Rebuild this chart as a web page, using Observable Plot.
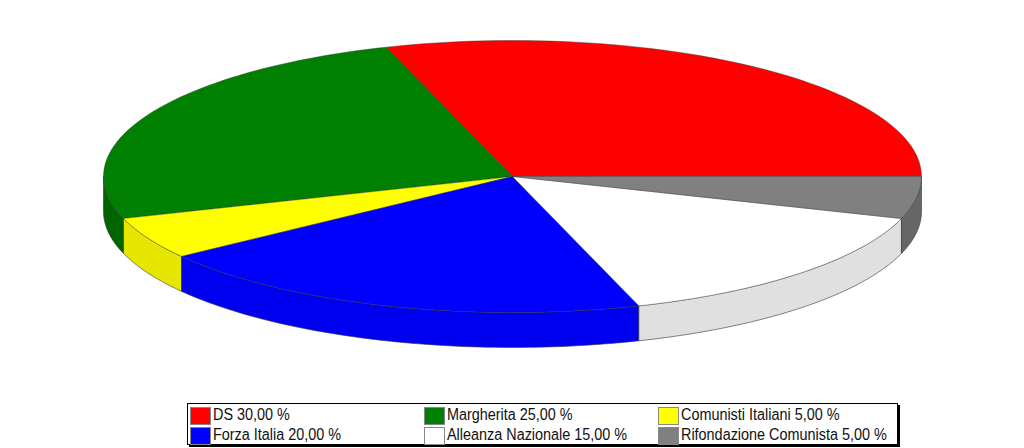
<!DOCTYPE html>
<html><head><meta charset="utf-8">
<script src="https://cdn.jsdelivr.net/npm/d3@7"></script>
<script src="https://cdn.jsdelivr.net/npm/@observablehq/plot@0.6"></script>
<style>
html,body{margin:0;padding:0;background:#fff;overflow:hidden}
svg{display:block}
#legend{position:absolute;left:187px;top:403px;width:711px;height:42px;box-sizing:border-box;border:1px solid #000;background:#fff;box-shadow:2px 2px 0 #000;font:16px "Liberation Sans",Arial,sans-serif;color:#111}
.it{position:absolute;display:flex;align-items:center;height:19px;white-space:nowrap}
.sw{width:21px;height:18px;border:1px solid #888;box-sizing:border-box;margin-right:2px;flex:none}
.tx{display:inline-block;transform:translateY(-1.5px) scaleX(.9);transform-origin:0 50%}
</style></head><body>
<div id="chart"></div><div id="legend"></div>
<script>
const names = ["DS","Margherita","Comunisti Italiani","Forza Italia","Alleanza Nazionale","Rifondazione Comunista"];
const shares = [30,25,5,20,15,5];
const topColors = ["#ff0000","#008000","#ffff00","#0000ff","#ffffff","#808080"];
const wallColors = ["#cc0000","#006400","#e6e600","#0000f0","#e0e0e0","#666666"];
const legendLabels = ["DS 30,00 %","Margherita 25,00 %","Comunisti Italiani 5,00 %","Forza Italia 20,00 %","Alleanza Nazionale 15,00 %","Rifondazione Comunista 5,00 %"];

const depth = 0.257; // wall height, in disc radii
const marks = [];
let acc = 0;
const turn = a => a / 100 * 2 * Math.PI;
const slices = shares.map((s, i) => { const o = {a0: turn(acc), a1: turn(acc + s), i}; acc += s; return o; });
const arc = (a0, a1) => d3.range(0, 61).map(k => a0 + (a1 - a0) * k / 60);

// walls: only the front half of the rim (below the horizontal axis)
for (const {a0, a1, i} of slices) {
  const lo = Math.max(a0, Math.PI), hi = Math.min(a1, 2 * Math.PI);
  if (lo >= hi) continue;
  const rim = arc(lo, hi).map(a => [Math.cos(a), Math.sin(a)]);
  const pts = [...rim, ...rim.slice().reverse().map(([x, y]) => [x, y - depth]), rim[0]];
  marks.push(Plot.line(pts, {x: d => d[0], y: d => d[1], fill: wallColors[i], stroke: "#333", strokeWidth: 0.6, strokeLinejoin: "round"}));
}
// top surface
for (const {a0, a1, i} of slices) {
  const pts = [[0, 0], ...arc(a0, a1).map(a => [Math.cos(a), Math.sin(a)]), [0, 0]];
  marks.push(Plot.line(pts, {x: d => d[0], y: d => d[1], fill: topColors[i], stroke: "#333", strokeWidth: 0.5, strokeOpacity: 0.8, strokeLinejoin: "round"}));
}
const chart = Plot.plot({
  width: 1024, height: 400, margin: 0,
  style: {background: "#fff"},
  x: {domain: [-1, 1], range: [103, 921], axis: null},
  y: {domain: [1, -1], range: [40, 312], axis: null},
  marks
});
document.getElementById("chart").append(chart);

const lx = [2, 236, 470], ly = [2, 22];
const legend = document.getElementById("legend");
legendLabels.forEach((label, n) => {
  const it = document.createElement("div");
  it.className = "it";
  it.style.left = lx[n % 3] + "px";
  it.style.top = ly[n < 3 ? 0 : 1] + "px";
  const sw = document.createElement("span"); sw.className = "sw"; sw.style.background = topColors[n];
  const t = document.createElement("span"); t.className = "tx"; t.textContent = label;
  it.append(sw, t); legend.append(it);
});
</script></body></html>
